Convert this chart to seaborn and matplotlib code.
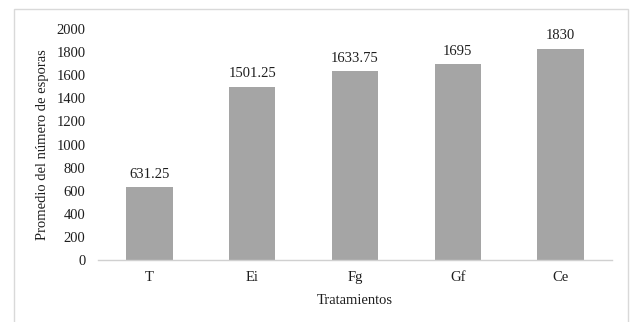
import matplotlib
matplotlib.use("Agg")
import matplotlib.pyplot as plt
from matplotlib.patches import Rectangle
import seaborn as sns
import pandas as pd

tratamientos = ["T", "Ei", "Fg", "Gf", "Ce"]
promedios = [631.25, 1501.25, 1633.75, 1695, 1830]
etiquetas = ["631.25", "1501.25", "1633.75", "1695", "1830"]
y_ticks = [0, 200, 400, 600, 800, 1000, 1200, 1400, 1600, 1800, 2000]

sns.set_theme(style="white")
plt.rcParams["font.family"] = ["Liberation Serif", "DejaVu Serif"]

df = pd.DataFrame({"Tratamientos": tratamientos, "Promedio": promedios})

fig = plt.figure(figsize=(6.31, 3.22), dpi=100)
ax = fig.add_axes([98 / 631, 1 - 260 / 322, (612 - 98) / 631, (260 - 29) / 322])

sns.barplot(data=df, x="Tratamientos", y="Promedio", color="#A5A5A5",
            saturation=1, width=0.45, ax=ax, edgecolor="none")

fs = 10.5
for i, (v, t) in enumerate(zip(promedios, etiquetas)):
    ax.text(i, v + 55, t, ha="center", va="bottom", fontsize=fs, color="#1E1E1E")

ax.set_ylim(0, 2000)
ax.set_xlim(-0.5, len(tratamientos) - 0.5)
ax.set_yticks(y_ticks)
ax.set_yticklabels([str(v) for v in y_ticks], fontsize=fs, color="#1E1E1E")
ax.tick_params(axis="x", labelsize=fs, colors="#1E1E1E", length=0, pad=8)
ax.tick_params(axis="y", length=0, pad=9)

for side in ["top", "right", "left"]:
    ax.spines[side].set_visible(False)
ax.spines["bottom"].set_color("#D0D0D0")
ax.spines["bottom"].set_linewidth(1)

ax.set_xlabel("Tratamientos", fontsize=fs, color="#1E1E1E", labelpad=7)
ax.set_ylabel("Promedio del número de esporas", fontsize=fs, color="#1E1E1E", labelpad=5)

# light frame around the chart area
fig.patches.append(Rectangle((14 / 631, -0.05), (628 - 14) / 631, 1.05 - 9 / 322,
                             transform=fig.transFigure, fill=False,
                             edgecolor="#D9D9D9", linewidth=1))

fig.savefig("out.png", dpi=100)
